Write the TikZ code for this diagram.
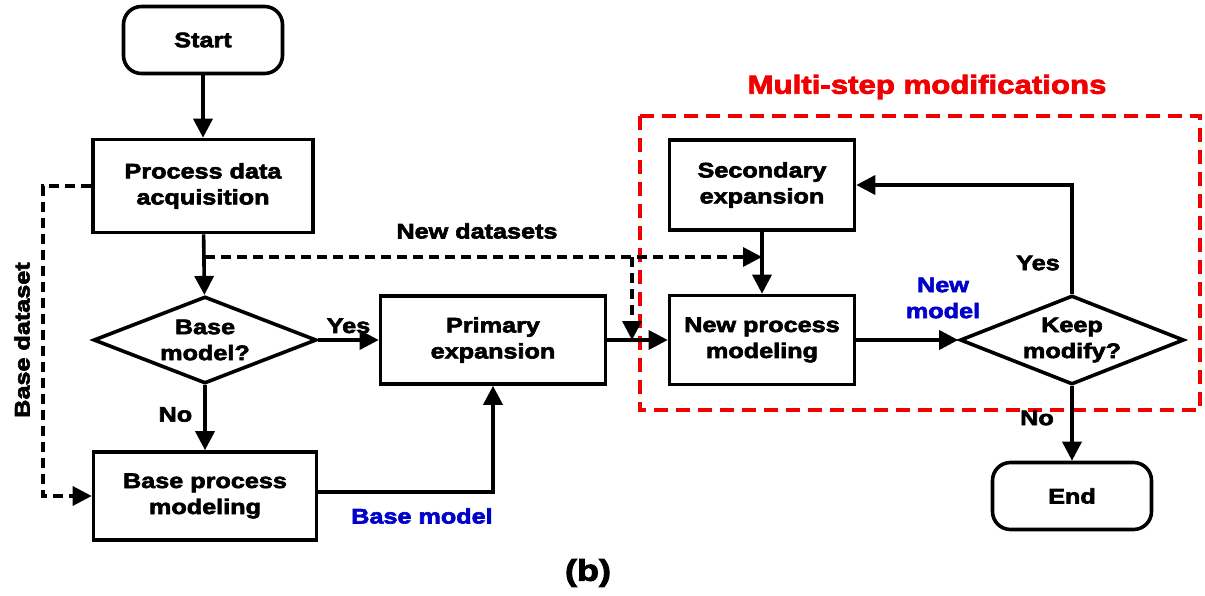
\documentclass[tikz,border=0pt]{standalone}
\usepackage{fontspec}
\setmainfont{Liberation Sans}[BoldFeatures={FakeBold=3,FakeStretch=1.2}]
\usetikzlibrary{arrows.meta,shapes.geometric}
\definecolor{flowblue}{RGB}{0,0,200}
\definecolor{flowred}{RGB}{240,0,0}
\tikzset{
  x=1pt, y=-1pt,
  every node/.style={font=\bfseries\fontsize{21}{26}\selectfont, align=center},
  stepbox/.style={draw, line width=3.6pt, minimum width=#1},
  stepbox/.default=220pt,
  terminal/.style={draw, line width=3.6pt, rounded corners=18pt, minimum width=159pt, minimum height=67pt},
  decision/.style={draw, line width=3.6pt, diamond, aspect=2.5, inner sep=0pt},
  flow/.style={line width=3.6pt, -{Triangle[length=19pt,width=19pt]}},
  dataflow/.style={line width=3.3pt, dash pattern=on 10pt off 6pt, -{Triangle[length=19pt,width=19pt]}},
  lbl/.style={inner sep=1pt},
  bluelbl/.style={text=flowblue, inner sep=1pt},
}
\begin{document}
\begin{tikzpicture}
\useasboundingbox (0,0) rectangle (1205,596);

% outline of the modification loop
\draw[flowred, line width=3.6pt, dash pattern=on 14pt off 8pt] (640,116) rectangle (1200,410);
\node[text=flowred, font=\bfseries\fontsize{26}{30}\selectfont] (multi) at (927,87) {Multi-step modifications};

% boxes
\node[terminal] (start) at (203,40) {Start};
\node[stepbox, minimum height=93pt] (acq) at (203,186) {Process data\\acquisition};
\node[decision, minimum width=223pt, minimum height=87pt] (base) at (205,340) {Base\\model?};
\node[stepbox=225pt, minimum height=88pt] (prim) at (493,340) {Primary\\expansion};
\node[stepbox=223pt, minimum height=88pt] (bpm) at (205,496) {Base process\\modeling};
\node[stepbox=185pt, minimum height=90pt] (sec) at (762,185) {Secondary\\expansion};
\node[stepbox=185pt, minimum height=89pt] (npm) at (762,340) {New process\\modeling};
\node[decision, minimum width=224pt, minimum height=89pt] (keep) at (1072,340) {Keep\\modify?};
\node[terminal] (end) at (1072,496) {End};

% helper points
\coordinate (split) at (205,257);
\coordinate (drop) at (632,257);
\coordinate (join) at (632,340);
\coordinate (merge) at (762,257);

% main flow
\draw[flow] (start) -- (acq);
\draw[flow] (acq) -- (base);
\draw[flow] (base) -- node[lbl, above=4pt, pos=0.5] (yes1) {Yes} (prim);
\draw[flow] (base) -- node[lbl, left=10pt, pos=0.45] (no1) {No} (bpm);
\draw[flow] (bpm.east |- 0,492) -| (prim.south);
\draw[flow] (prim) -- (npm);
\draw[flow] (sec) -- (npm);
\draw[flow] (npm) -- (keep);
\draw[flow] (keep.north) |- (sec.east);
\draw[flow] (keep) -- (end);

% data paths
\draw[dataflow] (split) -- (merge);
\draw[dataflow] (drop) -- (join);
\draw[dataflow] (acq.west) -- (43,186) |- (bpm.west);

% labels
\node[lbl] (newds) at (477,231) {New datasets};
\node[lbl, rotate=90] (bds) at (22,340) {Base dataset};
\node[bluelbl] (bmodel) at (422,516) {Base model};
\node[bluelbl] (nmodel) at (943,298) {New\\model};
\node[lbl] (yes2) at (1038,263) {Yes};
\node[lbl] (no2) at (1037,418) {No};
\node[font=\bfseries\fontsize{30}{34}\selectfont] (tag) at (588,573) {(b)};
\end{tikzpicture}
\end{document}
